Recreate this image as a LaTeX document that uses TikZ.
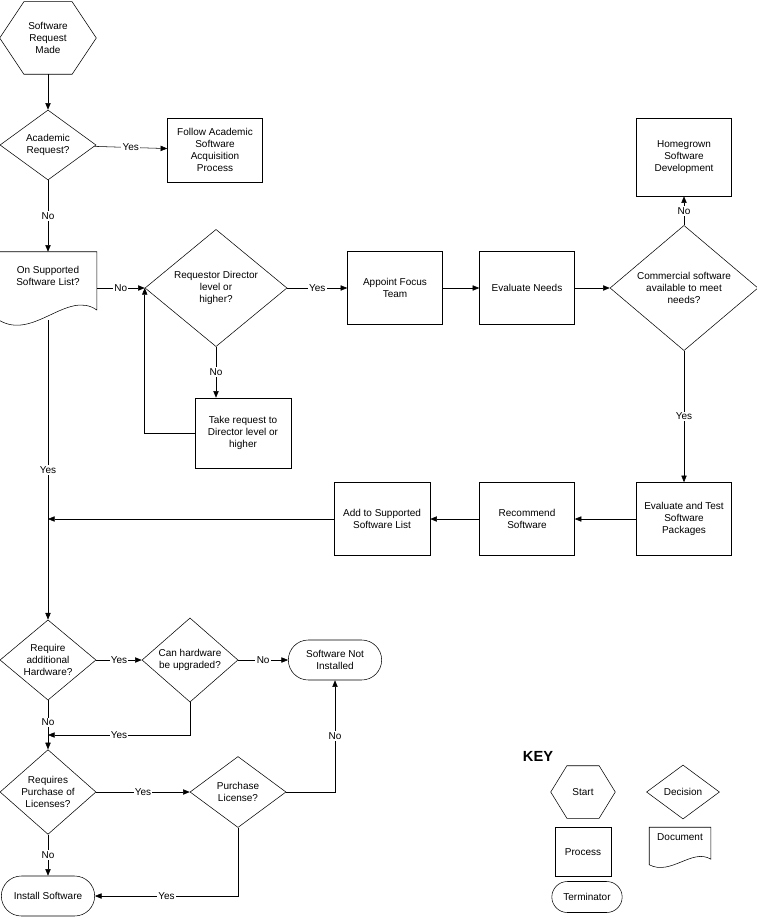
\documentclass[tikz,border=0pt]{standalone}
\usepackage{fontspec}
\setmainfont{Liberation Sans}
\usetikzlibrary{shapes.geometric,shapes.misc,arrows.meta,calc}

\tikzset{
  every node/.style={font=\fontsize{7.5}{9}\selectfont, align=center},
  proc/.style 2 args={draw, rectangle, inner sep=1pt, minimum width=#1*0.75pt, minimum height=#2*0.75pt},
  dec/.style 2 args={draw, diamond, inner sep=0pt, minimum width=#1*0.75pt, minimum height=#2*0.75pt},
  term/.style 2 args={draw, rounded rectangle, inner sep=1pt, minimum width=#1*0.75pt, minimum height=#2*0.75pt},
  frame/.style 2 args={rectangle, inner sep=1pt, minimum width=#1*0.75pt, minimum height=#2*0.75pt},
  flow/.style={-{Triangle[length=5pt,width=4pt]}},
  lbl/.style={fill=white, inner sep=1pt},
}
% outline helpers for hexagon and document shapes
\newcommand{\hexfrm}[1]{%
  \draw let \p1=(#1.north west), \p2=(#1.south east), \n1={(\x2-\x1)/4} in
    (\x1+\n1,\y1) -- (\x2-\n1,\y1) -- (\x2,{(\y1+\y2)/2}) -- (\x2-\n1,\y2)
    -- (\x1+\n1,\y2) -- (\x1,{(\y1+\y2)/2}) -- cycle;}
\newcommand{\docfrm}[1]{%
  \draw let \p1=(#1.north west), \p2=(#1.south east), \n1={\x2-\x1}, \n2={\y1-\y2} in
    (\x1,\y2) -- (\x1,\y1) -- (\x2,\y1) -- (\x2,\y2+0.15*\n2)
    .. controls (\x1+0.7*\n1,\y2+0.45*\n2) and (\x1+0.35*\n1,\y2-0.3*\n2) .. (\x1,\y2);}

\begin{document}
\begin{tikzpicture}[x=0.75pt, y=-0.75pt, thin]
\useasboundingbox (0,0) rectangle (756,920);

% main column
\node[frame={96}{72}] (start) at (48,38) {Software\\Request\\Made};
\hexfrm{start}
\node[dec={96}{70}] (acad) at (48,145) {Academic\\Request?};
\node[proc={95}{64}] (follow) at (215,150) {Follow Academic\\Software\\Acquisition\\Process};
\node[frame={97}{68}] (list) at (48,286) {On Supported\\Software List?\\[6pt]};
\docfrm{list}

% upper row
\node[dec={142}{105}] (dir) at (216,288) {Requestor Director\\level or\\higher?};
\node[proc={95}{73}] (team) at (395,288) {Appoint Focus\\Team};
\node[proc={95}{73}] (needs) at (527,288) {Evaluate Needs};
\node[dec={148}{98}] (comm) at (684,288) {Commercial software\\available to meet\\needs?};
\node[proc={95}{78}] (home) at (684,157) {Homegrown\\Software\\Development};
\node[proc={96}{70}] (take) at (243,433) {Take request to\\Director level or\\higher};

% middle row
\node[proc={95}{73}] (test) at (684,519) {Evaluate and Test\\Software\\Packages};
\node[proc={95}{73}] (recom) at (527,519) {Recommend\\Software};
\node[proc={96}{73}] (add) at (382,519) {Add to Supported\\Software List};
\coordinate (join) at (48,519);

% lower part
\node[dec={96}{70}] (hw) at (48,660) {Require\\additional\\Hardware?};
\node[dec={96}{70}] (upg) at (190,660) {Can hardware\\be upgraded?};
\node[term={96}{40}] (notin) at (335,660) {Software Not\\Installed};
\coordinate (back) at (190,735);
\node[dec={96}{71}] (lic) at (48,792) {Requires\\Purchase of\\Licenses?};
\node[dec={96}{71}] (buy) at (238,792) {Purchase\\License?};
\node[term={96}{40}] (inst) at (48,896) {Install Software};

% connectors
\draw[flow] (start) -- (acad);
\draw[flow] (acad) -- node[lbl]{Yes} (follow);
\draw[flow] (acad) -- node[lbl]{No} (list);
\draw[flow] (list.east |- dir.west) -- node[lbl]{No} (dir.west);
\draw[flow] (dir) -- node[lbl]{Yes} (team);
\draw[flow] (team) -- (needs);
\draw[flow] (needs) -- (comm);
\draw[flow] (comm) -- node[lbl]{No} (home);
\draw[flow] (comm) -- node[lbl]{Yes} (test);
\draw[flow] (dir.south) -- node[lbl]{No} (dir.south |- take.north);
\draw[flow] (take.west) -| (dir.west);
\draw[flow] (test) -- (recom);
\draw[flow] (recom) -- (add);
\draw[flow] (add) -- (join);
\draw[flow] (list.south) -- node[lbl, pos=0.5]{Yes} (hw);
\draw[flow] (hw) -- node[lbl]{Yes} (upg);
\draw[flow] (upg) -- node[lbl]{No} (notin);
\draw[flow] (upg.south) -- (back) -- node[lbl]{Yes} (back -| hw);
\draw[flow] (hw) -- node[lbl, pos=0.45]{No} (lic);
\draw[flow] (lic) -- node[lbl]{Yes} (buy);
\draw[flow] (buy.east) -| node[lbl, pos=0.75]{No} (notin.south);
\draw[flow] (lic) -- node[lbl]{No} (inst);
\draw[flow] (buy.south) |- node[lbl, pos=0.75]{Yes} (inst.east);

% key
\node[font=\bfseries\fontsize{11}{13}\selectfont] (key) at (538,756) {KEY};
\node[frame={64}{52}] (kstart) at (583,792) {Start};
\hexfrm{kstart}
\node[dec={73}{54}] (kdec) at (683,792) {Decision};
\node[proc={56}{49}] (kproc) at (583,852) {Process};
\node[frame={61}{37}] (kdoc) at (680,846) {Document\\[4pt]};
\docfrm{kdoc}
\node[term={73}{31}] (kterm) at (587,897) {Terminator};
\end{tikzpicture}
\end{document}
